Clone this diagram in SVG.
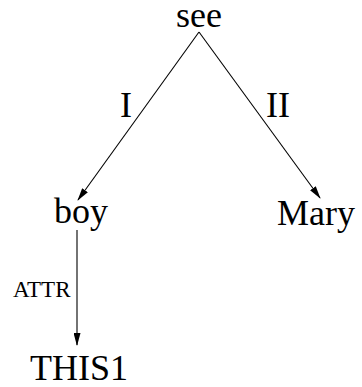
<svg xmlns="http://www.w3.org/2000/svg" width="362" height="387" viewBox="0 0 362 387">
<style>
text{font-family:'Liberation Serif','Times New Roman',serif;fill:#000}
.n{font-size:36px}
.l{font-size:36px}
.s{font-size:23px}
.e{stroke:#000;stroke-width:1.1;fill:none}
</style>
<defs>
<marker id="ah" markerWidth="13" markerHeight="7" refX="12" refY="3.5" orient="auto" markerUnits="userSpaceOnUse">
<path d="M0,0 L13,3.5 L0,7 Z" fill="#000"/>
</marker>
</defs>
<rect width="362" height="387" fill="#fff"/>
<g id="connectors">
<line class="e" x1="199" y1="32" x2="78" y2="200" marker-end="url(#ah)"/>
<line class="e" x1="199" y1="32" x2="320" y2="198" marker-end="url(#ah)"/>
<line class="e" x1="77" y1="230" x2="77" y2="345" marker-end="url(#ah)"/>
<text class="l" x="120" y="117">I</text>
<text class="l" x="266" y="117">II</text>
<text class="s" x="13" y="297">ATTR</text>
</g>
<g id="see"><text class="n" x="199" y="27" text-anchor="middle">see</text></g>
<g id="boy"><text class="n" x="81" y="223" text-anchor="middle">boy</text></g>
<g id="mary"><text class="n" x="316" y="225" text-anchor="middle">Mary</text></g>
<g id="this1"><text class="n" x="79" y="380" text-anchor="middle">THIS1</text></g>
</svg>
